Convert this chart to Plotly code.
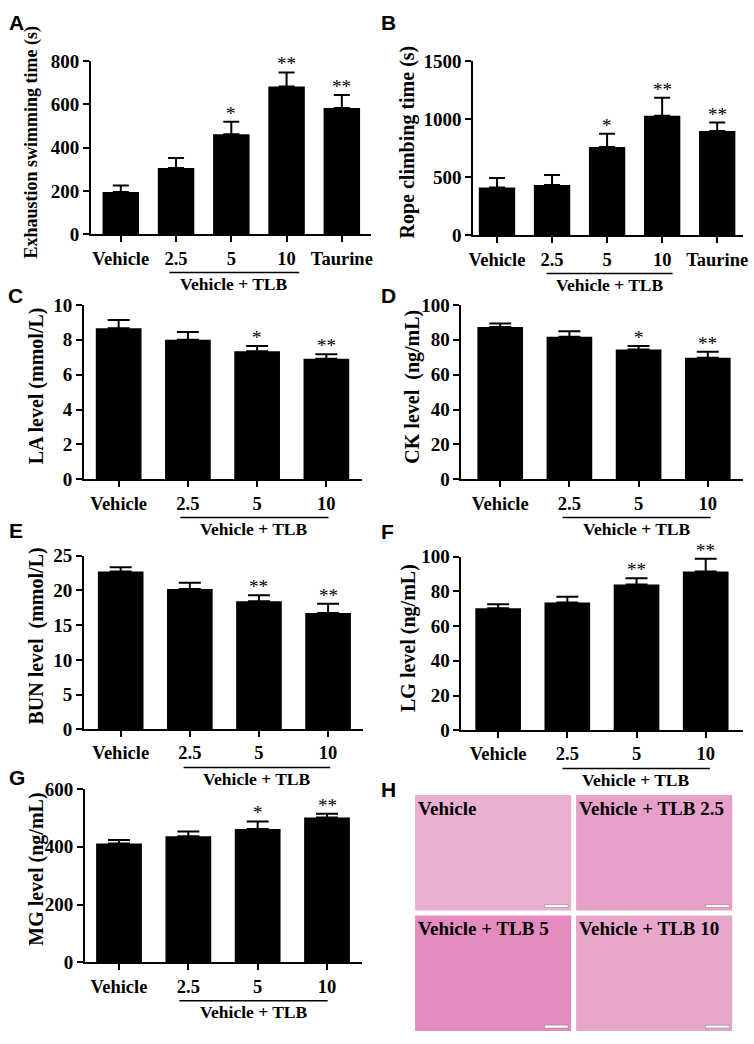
import plotly.graph_objects as go

# group labels
groups5 = ["Vehicle", "2.5", "5", "10", "Taurine"]
groups4 = ["Vehicle", "2.5", "5", "10"]

# A: exhaustion swimming time (s)
swim_time = [196, 306, 462, 682, 583]
swim_err = [30, 46, 58, 65, 60]
swim_sig = ["", "", "*", "**", "**"]

# B: rope climbing time (s)
rope_time = [412, 434, 761, 1029, 897]
rope_err = [81, 85, 113, 155, 73]
rope_sig = ["", "", "*", "**", "**"]

# C: LA level (mmol/L)
la_level = [8.67, 8.0, 7.35, 6.92]
la_err = [0.47, 0.45, 0.29, 0.26]
la_sig = ["", "", "*", "**"]

# D: CK level (ng/mL)
ck_level = [87.3, 81.7, 74.4, 69.7]
ck_err = [2.0, 3.2, 2.0, 3.4]
ck_sig = ["", "", "*", "**"]

# E: BUN level (mmol/L)
bun_level = [22.74, 20.2, 18.46, 16.76]
bun_err = [0.61, 0.9, 0.84, 1.32]
bun_sig = ["", "", "**", "**"]

# F: LG level (ng/mL)
lg_level = [70.3, 73.7, 84.0, 91.5]
lg_err = [2.4, 3.2, 3.6, 7.4]
lg_sig = ["", "", "**", "**"]

# G: MG level (ng/mL)
mg_level = [411.6, 436.5, 462, 501.6]
mg_err = [12.4, 16.5, 26, 12.4]
mg_sig = ["", "", "*", "**"]

# H: H&E section labels
he_labels = ["Vehicle", "Vehicle + TLB 2.5", "Vehicle + TLB 5", "Vehicle + TLB 10"]

W, H = 754, 1044
SERIF = "Liberation Serif, Times New Roman, serif"
SANS = "Liberation Sans, Arial, sans-serif"
TICK = 18.5


def px(x):
    return x / W


def py(y):
    return 1 - y / H


# layout of each bar panel, in pixels
panels = [
    dict(letter="A", lpos=(3, 13), cats=groups5, vals=swim_time, errs=swim_err, sig=swim_sig,
         title="Exhaustion swimming time (s)", tsize=18, tshift=59,
         box=(88, 371, 52, 229), xr=[-0.54, 4.52], yr=[0, 800], dtick=200, cap=8, tlb=(0.88, 3.23)),
    dict(letter="B", lpos=(380, 13), cats=groups5, vals=rope_time, errs=rope_err, sig=rope_sig,
         title="Rope climbing time (s)", tsize=20, tshift=66,
         box=(475, 748, 52, 230), xr=[-0.43, 4.47], yr=[0, 1500], dtick=500, cap=8, tlb=(0.9, 3.19)),
    dict(letter="C", lpos=(2, 291), cats=groups4, vals=la_level, errs=la_err, sig=la_sig,
         title="LA level (mmol/L)", tsize=20, tshift=48,
         box=(81, 362, 301, 479), xr=[-0.5, 3.51], yr=[0, 10], dtick=2, cap=11, tlb=(0.89, 3.03)),
    dict(letter="D", lpos=(380, 291), cats=groups4, vals=ck_level, errs=ck_err, sig=ck_sig,
         title="CK level  (ng/mL)", tsize=20, tshift=49,
         box=(463, 748, 301, 479), xr=[-0.56, 3.51], yr=[0, 100], dtick=20, cap=11, tlb=(0.9, 3.04)),
    dict(letter="E", lpos=(3, 531), cats=groups4, vals=bun_level, errs=bun_err, sig=bun_sig,
         title="BUN level  (mmol/L)", tsize=20, tshift=48,
         box=(81, 363, 557, 734), xr=[-0.53, 3.5], yr=[0, 25], dtick=5, cap=11, tlb=(0.91, 3.03)),
    dict(letter="F", lpos=(380, 532), cats=groups4, vals=lg_level, errs=lg_err, sig=lg_sig,
         title="LG level (ng/mL)", tsize=20, tshift=53,
         box=(463, 748, 558, 735), xr=[-0.53, 3.54], yr=[0, 100], dtick=20, cap=11, tlb=(0.93, 3.06)),
    dict(letter="G", lpos=(3, 783), cats=groups4, vals=mg_level, errs=mg_err, sig=mg_sig,
         title="MG level (ng/mL)", tsize=20, tshift=48,
         box=(82, 362, 795, 972), xr=[-0.49, 3.5], yr=[0, 600], dtick=200, cap=11, tlb=(0.87, 3.01)),
]

fig = go.Figure()
annotations = []
shapes = []
layout = {}

for i, p in enumerate(panels, start=1):
    xa = "x" if i == 1 else f"x{i}"
    ya = "y" if i == 1 else f"y{i}"
    n = len(p["cats"])
    pos = list(range(n))

    fig.add_trace(go.Bar(
        x=pos, y=p["vals"], width=0.66, xaxis=xa, yaxis=ya,
        marker=dict(color="black", line=dict(width=0)),
        error_y=dict(type="data", array=p["errs"], arrayminus=[0] * n, symmetric=False,
                     color="black", thickness=2, width=p["cap"]),
        hoverinfo="skip",
    ))

    left, right, top, bottom = p["box"]
    plot_h = bottom - top
    layout["xaxis" if i == 1 else f"xaxis{i}"] = dict(
        domain=[px(left), px(right)], anchor=ya, range=p["xr"],
        tickmode="array", tickvals=pos, ticktext=p["cats"],
        ticks="outside", ticklen=6, tickwidth=2, tickcolor="black",
        showline=True, linewidth=2, linecolor="black", showgrid=False, zeroline=False,
        tickfont=dict(family=SERIF, size=TICK, color="black", weight="bold"),
        ticklabelstandoff=0, fixedrange=True,
    )
    layout["yaxis" if i == 1 else f"yaxis{i}"] = dict(
        domain=[py(bottom), py(top)], anchor=xa, range=p["yr"], dtick=p["dtick"],
        ticks="outside", ticklen=6, tickwidth=2, tickcolor="black",
        showline=True, linewidth=2, linecolor="black", showgrid=False, zeroline=False,
        tickfont=dict(family=SERIF, size=TICK + 0.5, color="black", weight="bold"),
        ticklabelstandoff=0, fixedrange=True,
    )

    # y title
    annotations.append(dict(
        text=p["title"], xref=f"{xa} domain", yref=f"{ya} domain", x=0, y=0.5,
        xshift=-p["tshift"], yshift=6, textangle=-90, showarrow=False,
        xanchor="center", yanchor="middle",
        font=dict(family=SERIF, size=p["tsize"], color="black", weight="bold"),
    ))

    # significance marks
    for k in range(n):
        if p["sig"][k]:
            annotations.append(dict(
                text=p["sig"][k], xref=xa, yref=ya, x=pos[k], y=p["vals"][k] + p["errs"][k],
                yshift=-4, showarrow=False, xanchor="center", yanchor="bottom",
                font=dict(family=SERIF, size=19, color="black"),
            ))

    # "Vehicle + TLB" bracket under the dose groups
    x0, x1 = p["tlb"]
    shapes.append(dict(
        type="line", xref=xa, yref=f"{ya} domain", x0=x0, x1=x1,
        y0=-39 / plot_h, y1=-39 / plot_h, line=dict(color="black", width=1.5),
    ))
    annotations.append(dict(
        text="Vehicle + TLB", xref=xa, yref=f"{ya} domain", x=(x0 + x1) / 2, y=-51 / plot_h,
        showarrow=False, xanchor="center", yanchor="middle",
        font=dict(family=SERIF, size=17.5, color="black", weight="bold"),
    ))

    # panel letter
    annotations.append(dict(
        text=p["letter"], xref="paper", yref="paper", x=px(p["lpos"][0]), y=py(p["lpos"][1]),
        showarrow=False, xanchor="left", yanchor="middle",
        font=dict(family=SANS, size=21, color="black", weight="bold"),
    ))

# H: H&E stained sections shown as tinted tiles
annotations.append(dict(
    text="H", xref="paper", yref="paper", x=px(380), y=py(796),
    showarrow=False, xanchor="left", yanchor="middle",
    font=dict(family=SANS, size=21, color="black", weight="bold"),
))
tiles = [(416, 574, 801, 919), (579, 737, 801, 919), (416, 574, 924, 1042), (579, 737, 924, 1042)]
tile_colors = ["#eab0d2", "#e7a0c8", "#e48cbd", "#e8a6cb"]
for (l, r, t, b), lab, col in zip(tiles, he_labels, tile_colors):
    shapes.append(dict(type="rect", xref="paper", yref="paper",
                       x0=px(l), x1=px(r), y0=py(b), y1=py(t),
                       fillcolor=col, line=dict(width=0), layer="below"))
    shapes.append(dict(type="rect", xref="paper", yref="paper",
                       x0=px(r - 27), x1=px(r - 3), y0=py(b - 3), y1=py(b - 6),
                       fillcolor="white", line=dict(color="#777777", width=0.5)))
    annotations.append(dict(
        text=lab, xref="paper", yref="paper", x=px(l + 1), y=py(t + 1),
        showarrow=False, xanchor="left", yanchor="top",
        font=dict(family=SERIF, size=19, color="black", weight="bold"),
    ))

fig.update_layout(
    width=W, height=H, margin=dict(l=0, r=0, t=0, b=0),
    paper_bgcolor="white", plot_bgcolor="white", showlegend=False,
    annotations=annotations, shapes=shapes, **layout,
)

# drop the default page margin so the figure fills the window
fig.write_html("out.html", config={"displayModeBar": False},
               post_script="document.body.style.margin='0px';")
